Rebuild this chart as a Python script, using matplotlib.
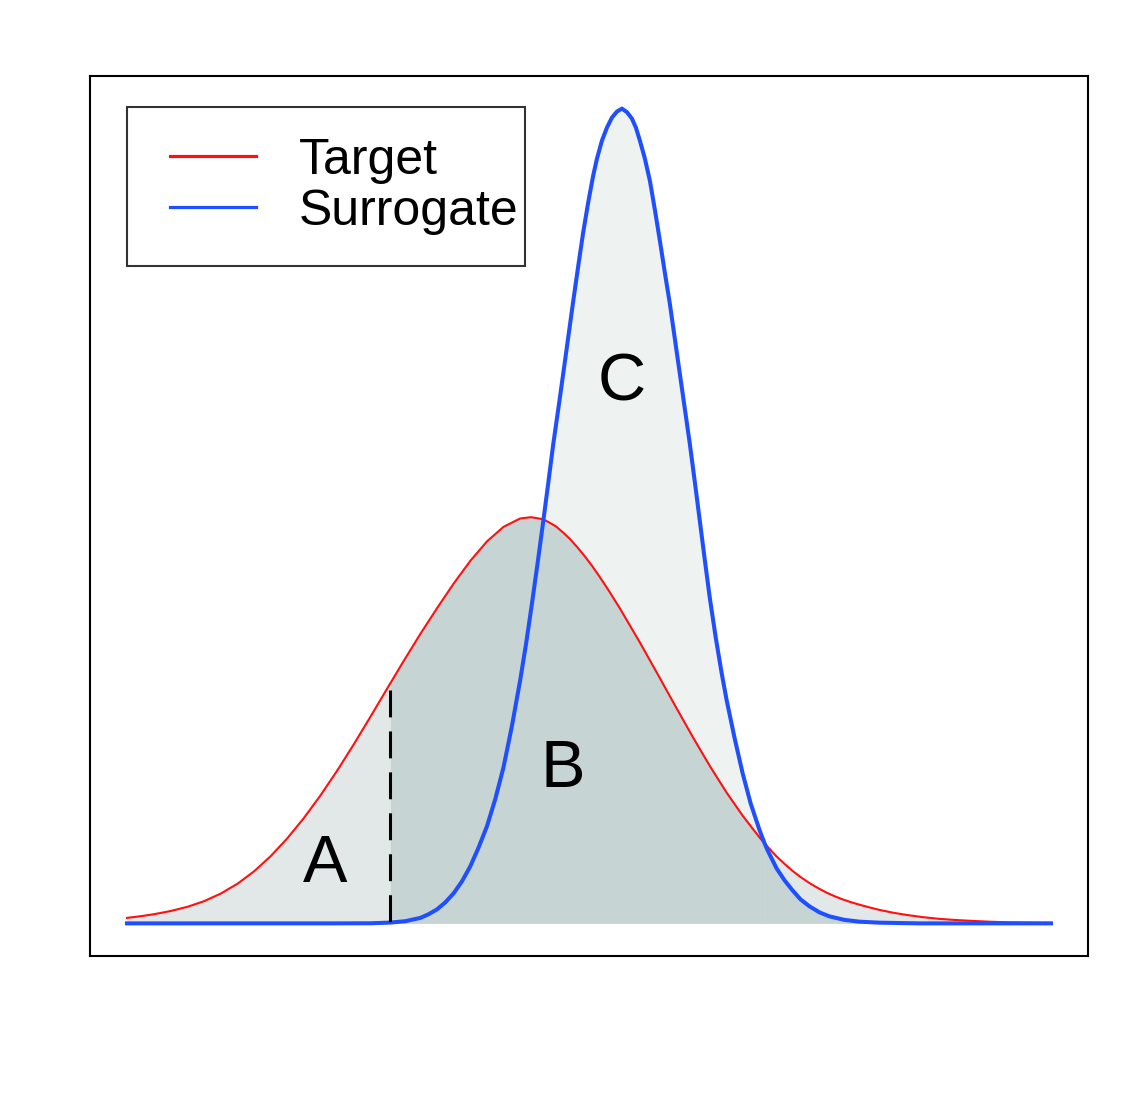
import matplotlib
matplotlib.use("Agg")
import matplotlib.pyplot as plt
from matplotlib.legend_handler import HandlerLine2D
import numpy as np

plt.rcParams['font.family'] = ['Liberation Sans', 'DejaVu Sans']

# target density (red)
target_x = [-4.63, -4.49, -4.357, -4.19, -4.023, -3.86, -3.69, -3.52, -3.357, -3.19,
            -3.023, -2.86, -2.69, -2.52, -2.357, -2.19, -2.023, -1.99, -1.86, -1.69,
            -1.52, -1.357, -1.19, -1.023, -0.857, -0.69, -0.58, -0.457, -0.39, -0.33,
            -0.26, -0.19, -0.115, -0.04, 0.035, 0.11, 0.21, 0.31, 0.41, 0.51,
            0.61, 0.71, 0.795, 0.88, 0.96, 1.04, 1.125, 1.21, 1.295, 1.38,
            1.46, 1.54, 1.625, 1.71, 1.76, 1.82, 1.88, 1.96, 2.04, 2.125,
            2.21, 2.295, 2.38, 2.46, 2.54, 2.625, 2.71, 2.81, 2.91, 3.04,
            3.18, 3.34, 3.51, 3.67, 3.84, 4.01, 4.21, 4.41, 4.63]
target_y = [0.0055, 0.0072, 0.0092, 0.0124, 0.0166, 0.0221, 0.0298, 0.0398, 0.052, 0.0672,
            0.0851, 0.105, 0.1281, 0.1533, 0.1791, 0.2067, 0.2348, 0.2403, 0.262, 0.2895,
            0.3157, 0.3398, 0.3625, 0.382, 0.3966, 0.405, 0.4063, 0.4042, 0.4005, 0.397,
            0.391, 0.3844, 0.376, 0.3669, 0.357, 0.3462, 0.331, 0.315, 0.298, 0.281,
            0.2632, 0.2454, 0.230, 0.2148, 0.2006, 0.1865, 0.172, 0.1576, 0.1441, 0.1307,
            0.1192, 0.1077, 0.0967, 0.0858, 0.0799, 0.0734, 0.0669, 0.0595, 0.0525, 0.046,
            0.0403, 0.0353, 0.0308, 0.0272, 0.0241, 0.0212, 0.0187, 0.016, 0.0135, 0.0108,
            0.0085, 0.0063, 0.0045, 0.0034, 0.0025, 0.0017, 0.001, 0.0007, 0.0005]

# surrogate density (blue)
surr_x = [-4.63, -3.39, -2.59, -2.19, -1.99, -1.84, -1.69, -1.61, -1.523, -1.44,
          -1.357, -1.273, -1.19, -1.11, -1.023, -0.94, -0.857, -0.773, -0.69, -0.63,
          -0.57, -0.51, -0.46, -0.41, -0.36, -0.30, -0.24, -0.20, -0.16, -0.11,
          -0.06, -0.01, 0.04, 0.08, 0.13, 0.18, 0.23, 0.28, 0.33, 0.38,
          0.43, 0.47, 0.51, 0.56, 0.61, 0.66, 0.71, 0.76, 0.81, 0.86,
          0.91, 0.96, 1.01, 1.06, 1.11, 1.16, 1.21, 1.27, 1.33, 1.38,
          1.46, 1.54, 1.62, 1.71, 1.76, 1.79, 1.88, 1.96, 2.04, 2.12,
          2.21, 2.31, 2.41, 2.56, 2.71, 2.91, 3.31, 4.63]
surr_y = [0.0, 0.0, 0.0, 0.0001, 0.0008, 0.0022, 0.0055, 0.009, 0.014, 0.021,
          0.030, 0.042, 0.057, 0.075, 0.097, 0.124, 0.156, 0.197, 0.243, 0.280,
          0.321, 0.364, 0.401, 0.439, 0.478, 0.520, 0.563, 0.592, 0.621, 0.656,
          0.690, 0.720, 0.747, 0.765, 0.783, 0.796, 0.806, 0.812, 0.815, 0.8115,
          0.805, 0.796, 0.783, 0.765, 0.743, 0.714, 0.683, 0.651, 0.620, 0.585,
          0.550, 0.515, 0.480, 0.442, 0.403, 0.364, 0.326, 0.286, 0.250, 0.223,
          0.185, 0.150, 0.120, 0.093, 0.080, 0.073, 0.055, 0.043, 0.033, 0.024,
          0.017, 0.011, 0.007, 0.0035, 0.0017, 0.0007, 0.0, 0.0]

threshold = -1.99      # dashed line
threshold_top = 0.233
crossing = 1.76        # where the two curves meet on the right

region_labels = ['A', 'B', 'C']
label_x = [-2.64, -0.26, 0.33]
label_y = [0.058, 0.153, 0.540]

tx, ty = np.array(target_x), np.array(target_y)
sx, sy = np.array(surr_x), np.array(surr_y)

fig = plt.figure(figsize=(11.45, 11.03), dpi=100)
ax = fig.add_axes([0.0786, 0.1333, 0.8716, 0.7978])

light_a = '#E1E8E7'
light_c = '#EEF2F1'
dark_b = '#C6D5D4'

ax.fill_between(sx, 0, sy, color=light_c, lw=0)
ax.fill_between(tx, 0, ty, color=light_a, lw=0)
ax.fill_between(tx, 0, ty, where=(tx >= threshold) & (tx <= crossing), color=dark_b, lw=0)
ax.fill_between(sx, 0, sy, where=sx >= crossing, color=dark_b, lw=0)

ax.plot(tx, ty, color='#FF1010', lw=1.5, label='Target')
ax.plot(sx, sy, color='#1F4FFF', lw=2.9, label='Surrogate')

ax.plot([threshold, threshold], [threshold_top, 0], color='black', lw=2.2,
        dashes=(8.8, 4.6), solid_capstyle='butt', dash_capstyle='butt')

for lab, x, y in zip(region_labels, label_x, label_y):
    ax.text(x, y, lab, fontsize=48, ha='center', va='center')

ax.margins(x=0.04, y=0.04)
ax.set_xticks([])
ax.set_yticks([])
for s in ax.spines.values():
    s.set_linewidth(1.5)

# legend handles drawn a bit thicker than the curves
h1, = ax.plot([], [], color='#FF1010', lw=2.3)
h2, = ax.plot([], [], color='#1F4FFF', lw=2.3)
hmap = {h1: HandlerLine2D(marker_pad=0.245, numpoints=2),
        h2: HandlerLine2D(marker_pad=0.245, numpoints=2)}
leg = ax.legend([h1, h2], ['Target', 'Surrogate'], loc='upper left',
                bbox_to_anchor=(0.0371, 0.9648, 0.3988, 0.0), mode='expand',
                fontsize=36, frameon=True, fancybox=False, edgecolor='black',
                borderpad=0.62, handlelength=2.2, handletextpad=0.62,
                labelspacing=0.1, borderaxespad=0, handler_map=hmap)
leg.get_frame().set_linewidth(1.5)

fig.savefig('out.png', dpi=100)
